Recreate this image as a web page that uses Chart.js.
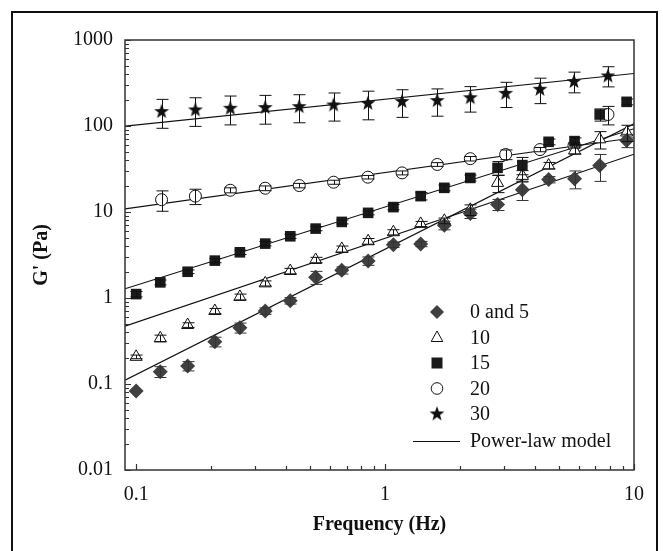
<!DOCTYPE html>
<html>
<head>
<meta charset="utf-8">
<script src="https://cdn.jsdelivr.net/npm/chart.js@4.4.1/dist/chart.umd.min.js"></script>
<style>
  html, body { margin: 0; padding: 0; background: #fff; }
  #wrap { position: relative; width: 663px; height: 551px; }
  #frame { position: absolute; left: 11px; top: 11px; width: 643px; height: 545px;
           border: 2px solid #111; border-bottom: none; pointer-events: none; }
</style>
</head>
<body>
<div id="wrap">
  <canvas id="graficoModulo" width="663" height="551"></canvas>
  <div id="frame"></div>
</div>
<script>
// frequencies (Hz)
var freqA = [0.1, 0.125, 0.161, 0.207, 0.261, 0.330, 0.416, 0.526, 0.670, 0.855,
             1.08, 1.39, 1.73, 2.20, 2.83, 3.56, 4.54, 5.77, 7.28, 9.34];
var freqB = [0.1265, 0.173, 0.239, 0.330, 0.452, 0.621, 0.853, 1.17, 1.62, 2.20,
             3.05, 4.19, 5.74, 7.86];

// G' (Pa) and error bars
var g0and5 = [0.083, 0.139, 0.162, 0.31, 0.451, 0.706, 0.93, 1.74, 2.1, 2.7,
              4.17, 4.25, 7.0, 9.6, 12.2, 18.2, 23.8, 24.3, 34.7, 68];
var e0and5 = [0, 0.02, 0.02, 0.04, 0.06, 0.06, 0.08, 0.3, 0.2, 0.3,
              0.3, 0.3, 0.8, 1.2, 1.8, 4.6, 2.0, 5.7, 12, 12];

var g10 = [0.207, 0.34, 0.485, 0.706, 1.03, 1.48, 2.06, 2.77, 3.72, 4.57,
           5.82, 7.27, 7.9, 10.6, 21.8, 26.3, 34.7, 52, 70, 84];
var e10 = [0.01, 0.03, 0.03, 0.05, 0.08, 0.1, 0.15, 0.2, 0.3, 0.35,
           0.4, 0.5, 0.6, 1.5, 5, 4, 3, 5, 16, 18];

var g15 = [1.11, 1.52, 2.02, 2.72, 3.40, 4.29, 5.22, 6.41, 7.67, 9.77,
           11.4, 15.3, 19.1, 24.9, 32.6, 35.1, 65.5, 66.7, 136, 191];
var e15 = [0.08, 0.1, 0.1, 0.15, 0.2, 0.25, 0.3, 0.35, 0.4, 0.5,
           0.8, 1.5, 1.5, 2, 6, 8, 5, 6, 22, 15];

var g20 = [13.9, 15.3, 17.9, 18.9, 20.3, 22.2, 25.4, 28.5, 35.7, 41.7,
           46.6, 53.2, 59.3, 136];
var e20 = [3.7, 3.1, 1.2, 1.2, 1.2, 1.2, 1.2, 1.5, 1.8, 2.5, 6, 3, 4, 33];

var g30 = [149, 156, 163, 166, 170, 178, 186, 195, 200, 216, 243, 271, 333, 387];
var e30 = [55, 57, 60, 61, 61, 64, 68, 69, 70, 71, 79, 89, 90, 102];

// power-law model lines (end points at the axis limits)
var fitX = [0.0902, 10];
var fit0and5 = [0.111, 106];
var fit10 = [0.47, 47];
var fit15 = [1.28, 93];
var fit20 = [10.9, 73];
var fit30 = [99.7, 408];

var xTickLabels = ['0.1', '1', '10'];
var yTickLabels = ['0.01', '0.1', '1', '10', '100', '1000'];

function pts(xs, ys) {
    return xs.map(function (x, i) { return { x: x, y: ys[i] }; });
}

// filled five point star for the 30 series
var starImg = document.createElement('canvas');
starImg.width = 16; starImg.height = 16;
(function () {
    var c = starImg.getContext('2d');
    c.beginPath();
    for (var i = 0; i < 10; i++) {
        var r = i % 2 === 0 ? 7.8 : 3.2;
        var a = -Math.PI / 2 + i * Math.PI / 5;
        var px = 8 + r * Math.cos(a), py = 8.6 + r * Math.sin(a);
        if (i === 0) c.moveTo(px, py); else c.lineTo(px, py);
    }
    c.closePath();
    c.fillStyle = '#111';
    c.fill();
})();

var serif = 'Liberation Serif';

var errorBars = {
    id: 'errorBars',
    afterDatasetsDraw: function (chart) {
        var ctx = chart.ctx, xs = chart.scales.x, ys = chart.scales.y;
        ctx.save();
        ctx.beginPath();
        ctx.rect(chart.chartArea.left, chart.chartArea.top, chart.chartArea.width, chart.chartArea.height);
        ctx.clip();
        chart.data.datasets.forEach(function (ds) {
            if (!ds.errorBars) return;
            ctx.strokeStyle = ds.errorColor || '#111';
            ctx.lineWidth = 1;
            ds.data.forEach(function (p, i) {
                var e = ds.errorBars[i];
                if (!e) return;
                var x = Math.round(xs.getPixelForValue(p.x)) + 0.5;
                var y1 = ys.getPixelForValue(p.y + e);
                var y2 = ys.getPixelForValue(Math.max(p.y - e, 0.001));
                ctx.beginPath();
                ctx.moveTo(x, y1); ctx.lineTo(x, y2);
                ctx.moveTo(x - 6, y1); ctx.lineTo(x + 6, y1);
                ctx.moveTo(x - 6, y2); ctx.lineTo(x + 6, y2);
                ctx.stroke();
            });
        });
        ctx.restore();
    }
};

var axisBox = {
    id: 'axisBox',
    afterDraw: function (chart) {
        var ctx = chart.ctx, a = chart.chartArea;
        var xs = chart.scales.x, ys = chart.scales.y;
        ctx.save();
        ctx.strokeStyle = '#333';
        ctx.lineWidth = 1.5;
        ctx.strokeRect(a.left, a.top, a.right - a.left, a.bottom - a.top);
        ctx.lineWidth = 1.2;
        ctx.beginPath();
        // y ticks, inside
        for (var d = -2; d <= 3; d++) {
            for (var k = 1; k <= 9; k++) {
                var v = k * Math.pow(10, d);
                if (v < ys.min || v > ys.max) continue;
                var y = Math.round(ys.getPixelForValue(v)) + 0.5;
                ctx.moveTo(a.left, y); ctx.lineTo(a.left + (k === 1 ? 6 : 4), y);
            }
        }
        // x ticks, inside
        for (var d2 = -1; d2 <= 1; d2++) {
            for (var k2 = 1; k2 <= 9; k2++) {
                var v2 = k2 * Math.pow(10, d2);
                if (v2 < xs.min * 1.01 || v2 > xs.max) continue;
                var x = Math.round(xs.getPixelForValue(v2)) + 0.5;
                ctx.moveTo(x, a.bottom); ctx.lineTo(x, a.bottom - (k2 === 1 ? 6 : 4));
            }
        }
        ctx.stroke();
        ctx.restore();
    }
};

var insideLegend = {
    id: 'insideLegend',
    afterDraw: function (chart) {
        var ctx = chart.ctx, a = chart.chartArea;
        var mx = a.right - 197, tx = a.right - 164, y0 = 312, step = 25.5;
        ctx.save();
        ctx.font = '20px "' + serif + '"';
        ctx.textBaseline = 'middle';
        ctx.fillStyle = '#111';
        chart.data.datasets.forEach(function (ds, i) {
            if (!ds.legendMark) return;
            var y = y0 + i * step;
            ctx.beginPath();
            if (ds.legendMark === 'diamond') {
                ctx.moveTo(mx, y - 7); ctx.lineTo(mx + 7, y); ctx.lineTo(mx, y + 7); ctx.lineTo(mx - 7, y);
                ctx.closePath(); ctx.fillStyle = '#404040'; ctx.fill();
            } else if (ds.legendMark === 'triangle') {
                ctx.moveTo(mx, y - 6.5); ctx.lineTo(mx + 5.8, y + 4); ctx.lineTo(mx - 5.8, y + 4);
                ctx.closePath(); ctx.strokeStyle = '#111'; ctx.lineWidth = 1; ctx.stroke();
            } else if (ds.legendMark === 'square') {
                ctx.fillStyle = '#1a1a1a'; ctx.fillRect(mx - 5.5, y - 5.5, 11, 11);
            } else if (ds.legendMark === 'circle') {
                ctx.arc(mx, y, 5.8, 0, Math.PI * 2); ctx.strokeStyle = '#111'; ctx.lineWidth = 1; ctx.stroke();
            } else if (ds.legendMark === 'star') {
                ctx.drawImage(starImg, mx - 8, y - 8.6);
            }
            ctx.fillStyle = '#111';
            ctx.fillText(ds.label, tx, y + 1);
        });
        var yl = y0 + 5 * step + 2;
        ctx.beginPath();
        ctx.moveTo(mx - 24, yl); ctx.lineTo(mx + 23, yl);
        ctx.strokeStyle = '#111'; ctx.lineWidth = 1.2; ctx.stroke();
        ctx.fillText('Power-law model', tx, yl);
        ctx.restore();
    }
};

function fitLine(ys) {
    return {
        label: '', data: pts(fitX, ys), showLine: true, pointRadius: 0,
        borderColor: '#111', borderWidth: 1.2, fill: false
    };
}

var ctxModulo = document.getElementById('graficoModulo').getContext('2d');

var grafico_modulo = new Chart(ctxModulo, {
    type: 'scatter',
    data: {
        datasets: [{
            label: '0 and 5', legendMark: 'diamond',
            data: pts(freqA, g0and5), errorBars: e0and5, errorColor: '#333',
            pointStyle: 'rectRot', pointRadius: 7.5,
            backgroundColor: '#404040', borderColor: '#404040', borderWidth: 0
        }, {
            label: '10', legendMark: 'triangle',
            data: pts(freqA, g10), errorBars: e10,
            pointStyle: 'triangle', pointRadius: 7,
            backgroundColor: '#fff', borderColor: '#111', borderWidth: 1
        }, {
            label: '15', legendMark: 'square',
            data: pts(freqA, g15), errorBars: e15,
            pointStyle: 'rect', pointRadius: 7.5,
            backgroundColor: '#1a1a1a', borderColor: '#1a1a1a', borderWidth: 0
        }, {
            label: '20', legendMark: 'circle',
            data: pts(freqB, g20), errorBars: e20,
            pointStyle: 'circle', pointRadius: 6,
            backgroundColor: '#fff', borderColor: '#111', borderWidth: 1
        }, {
            label: '30', legendMark: 'star',
            data: pts(freqB, g30), errorBars: e30,
            pointStyle: starImg, pointRadius: 8
        },
        fitLine(fit0and5), fitLine(fit10), fitLine(fit15), fitLine(fit20), fitLine(fit30)]
    },
    options: {
        responsive: false,
        animation: false,
        layout: { padding: { top: 40, right: 29, left: 0, bottom: 0 } },
        plugins: { legend: { display: false }, tooltip: { enabled: false } },
        scales: {
            x: {
                type: 'logarithmic', position: 'bottom', min: 0.0902, max: 10,
                grid: { display: false, drawTicks: false },
                border: { display: false },
                afterBuildTicks: function (s) {
                    s.ticks = xTickLabels.map(function (l) { return { value: parseFloat(l) }; });
                },
                afterFit: function (s) { s.height = 81; },
                ticks: {
                    autoSkip: false, maxRotation: 0, padding: 13, color: '#111',
                    font: { family: serif, size: 20 },
                    callback: function (v) {
                        var i = xTickLabels.map(parseFloat).indexOf(v);
                        return i >= 0 ? xTickLabels[i] : '';
                    }
                },
                title: {
                    display: true, text: 'Frequency (Hz)', color: '#111',
                    font: { family: serif, size: 20, weight: 'bold' },
                    padding: { top: 0, bottom: 14 }
                }
            },
            y: {
                type: 'logarithmic', position: 'left', min: 0.01, max: 1000,
                grid: { display: false, drawTicks: false },
                border: { display: false },
                afterBuildTicks: function (s) {
                    s.ticks = yTickLabels.map(function (l) { return { value: parseFloat(l) }; });
                },
                afterFit: function (s) { s.width = 125; },
                ticks: {
                    autoSkip: false, padding: 12, color: '#111',
                    font: { family: serif, size: 20 },
                    callback: function (v) {
                        var i = yTickLabels.map(parseFloat).indexOf(v);
                        return i >= 0 ? yTickLabels[i] : '';
                    }
                },
                title: {
                    display: true, text: "G' (Pa)", color: '#111',
                    font: { family: serif, size: 20, weight: 'bold' },
                    padding: { top: 30, bottom: 0 }
                }
            }
        }
    },
    plugins: [errorBars, axisBox, insideLegend]
});
</script>
</body>
</html>
